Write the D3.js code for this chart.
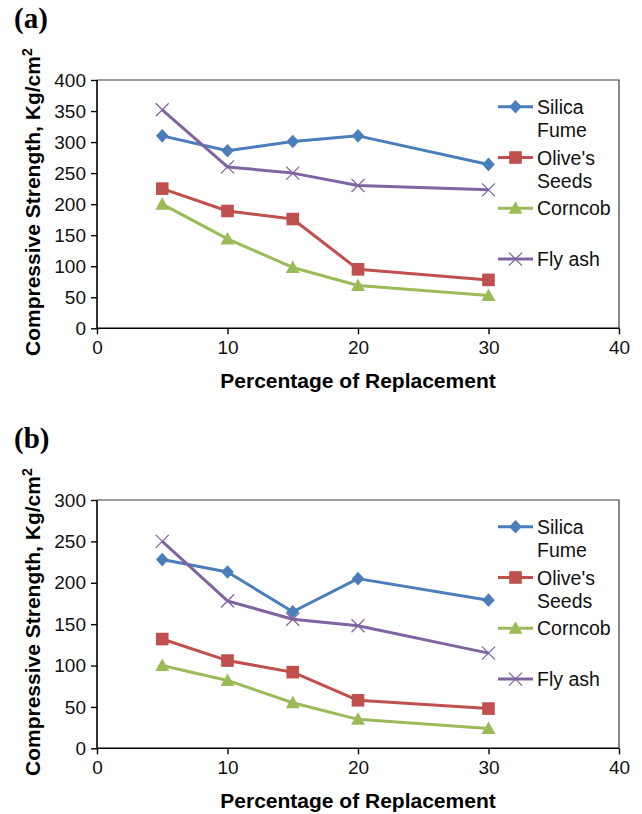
<!DOCTYPE html>
<html>
<head>
<meta charset="utf-8">
<script src="https://cdn.jsdelivr.net/npm/d3@7"></script>
<style>
    body { margin: 0; background: #fff; }
    svg { display: block; font-family: 'Liberation Sans', Arial, sans-serif; }
</style>
</head>
<body>
<div id="chart"></div>
<script>
// Data
const xValues = [5, 10, 15, 20, 30];
const xTicks = [0, 10, 20, 30, 40];
const seriesNames = ['Silica Fume', "Olive's Seeds", 'Corncob', 'Fly ash'];
const legendLines = [['Silica', 'Fume'], ["Olive's", 'Seeds'], ['Corncob'], ['Fly ash']];

// panel (a)
const silicaA = [310, 286, 301, 310, 264];
const oliveA = [225, 189, 176, 95, 78];
const corncobA = [200, 144, 98, 69, 53];
const flyAshA = [352, 260, 250, 230, 223];
const yTicksA = [0, 50, 100, 150, 200, 250, 300, 350, 400];

// panel (b)
const silicaB = [228, 213, 165, 205, 179];
const oliveB = [132, 106, 92, 58, 48];
const corncobB = [100, 82, 55, 35, 24];
const flyAshB = [250, 178, 156, 148, 115];
const yTicksB = [0, 50, 100, 150, 200, 250, 300];

const colors = ['#4a7ebb', '#c0504d', '#9bbb59', '#8064a2'];
const markers = ['diamond', 'square', 'triangle', 'cross'];

const width = 642,
    height = 814;

const svg = d3.select('#chart').append('svg')
    .attr('width', width)
    .attr('height', height);

svg.append('rect')
    .attr('width', width)
    .attr('height', height)
    .attr('fill', '#fff');

function drawMarker(g, type, color) {
    if (type === 'diamond') {
        g.append('path')
            .attr('d', 'M0,-6.8L6.3,0L0,6.8L-6.3,0Z')
            .attr('fill', color);
    } else if (type === 'square') {
        g.append('rect')
            .attr('x', -6.3).attr('y', -6.3)
            .attr('width', 12.6).attr('height', 12.6)
            .attr('fill', color);
    } else if (type === 'triangle') {
        g.append('path')
            .attr('d', 'M0,-7L7,5.5L-7,5.5Z')
            .attr('fill', color);
    } else {
        g.append('path')
            .attr('d', 'M-6.5,-6.5L6.5,6.5M-6.5,6.5L6.5,-6.5')
            .attr('stroke', color)
            .attr('stroke-width', 1.3)
            .attr('fill', 'none');
    }
}

function drawPanel(top, label, yTicks, series) {
    const margins = { left: 97, top: top, right: 23 };
    const plotW = 619 - margins.left,
        plotH = 248.3;

    const g = svg.append('g')
        .attr('transform', 'translate(' + margins.left + ', ' + margins.top + ')');

    const x = d3.scaleLinear().domain([0, 40]).range([0, plotW]);
    const y = d3.scaleLinear().domain([0, d3.max(yTicks)]).range([plotH, 0]);

    // panel label
    svg.append('text')
        .attr('x', 14)
        .attr('y', top - 52)
        .attr('font-family', "'Liberation Serif', 'Times New Roman', serif")
        .attr('font-weight', 'bold')
        .attr('font-size', 29)
        .text(label);

    // plot frame (top & right)
    g.append('path')
        .attr('d', 'M0,0H' + plotW + 'V' + plotH)
        .attr('fill', 'none')
        .attr('stroke', '#3a3a3a')
        .attr('stroke-width', 1.2);

    const axisX = d3.axisBottom(x).tickValues(xTicks).tickSize(6).tickPadding(6);
    const gx = g.append('g')
        .attr('transform', 'translate(0, ' + plotH + ')')
        .call(axisX);

    const axisY = d3.axisLeft(y).tickValues(yTicks).tickSize(6).tickPadding(5);
    const gy = g.append('g').call(axisY);

    [gx, gy].forEach(a => {
        a.select('.domain').attr('stroke', '#000').attr('stroke-width', 1.6);
        a.selectAll('.tick line').attr('stroke', '#000').attr('stroke-width', 1.4);
        a.selectAll('.tick text')
            .attr('fill', '#111')
            .attr('font-size', 19)
            .attr('font-family', "'Liberation Sans', Arial, sans-serif");
    });
    gx.selectAll('.domain').attr('d', 'M0,0H' + plotW);
    gy.selectAll('.domain').attr('d', 'M0,0V' + plotH);

    // axis titles
    g.append('text')
        .attr('x', plotW / 2)
        .attr('y', plotH + 60)
        .attr('text-anchor', 'middle')
        .attr('font-weight', 'bold')
        .attr('font-size', 21)
        .text('Percentage of Replacement');

    const yTitle = g.append('text')
        .attr('transform', 'translate(-57, ' + (plotH / 2 - 2) + ') rotate(-90)')
        .attr('text-anchor', 'middle')
        .attr('font-weight', 'bold')
        .attr('font-size', 21);
    yTitle.append('tspan').text('Compressive Strength, Kg/cm');
    yTitle.append('tspan').attr('dy', -8).attr('font-size', 14).text('2');

    const line = d3.line()
        .x((d, i) => x(xValues[i]))
        .y(d => y(d));

    series.forEach((values, s) => {
        g.append('path')
            .datum(values)
            .attr('d', line)
            .attr('fill', 'none')
            .attr('stroke', colors[s])
            .attr('stroke-width', 3)
            .attr('stroke-linejoin', 'round');
    });

    series.forEach((values, s) => {
        values.forEach((v, i) => {
            const m = g.append('g')
                .attr('transform', 'translate(' + x(xValues[i]) + ', ' + y(v) + ')');
            drawMarker(m, markers[s], colors[s]);
        });
    });

    // legend
    const legend = svg.append('g')
        .attr('transform', 'translate(498, ' + (top + 26.7) + ')');

    seriesNames.forEach((name, s) => {
        const item = legend.append('g')
            .attr('transform', 'translate(0, ' + (s * 50.8) + ')');
        item.append('line')
            .attr('x1', 0).attr('x2', 35)
            .attr('stroke', colors[s])
            .attr('stroke-width', 3);
        const m = item.append('g').attr('transform', 'translate(17.5, 0)');
        drawMarker(m, markers[s], colors[s]);
        legendLines[s].forEach((t, k) => {
            item.append('text')
                .attr('x', 39)
                .attr('y', 7 + k * 23.5)
                .attr('font-size', 19.5)
                .attr('fill', '#111')
                .text(t);
        });
    });
}

drawPanel(80, '(a)', yTicksA, [silicaA, oliveA, corncobA, flyAshA]);
drawPanel(500, '(b)', yTicksB, [silicaB, oliveB, corncobB, flyAshB]);
</script>
</body>
</html>
